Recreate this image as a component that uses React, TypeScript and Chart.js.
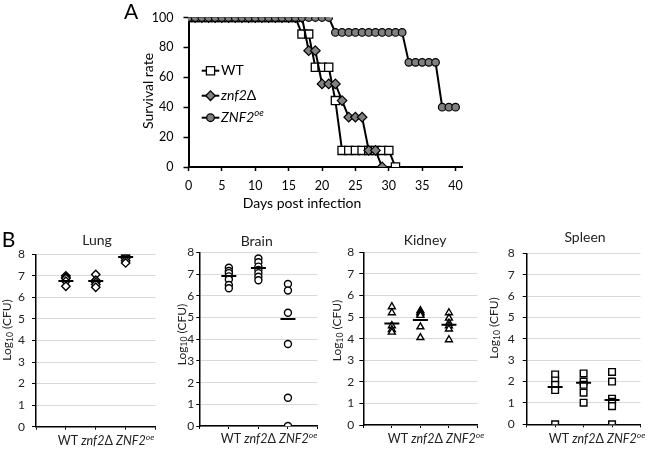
import React, { useEffect, useRef } from 'react';
import { Chart, registerables } from 'chart.js';

Chart.register(...registerables);

const FONT = 'Lato, "Liberation Sans", sans-serif';

// ---------------- Panel A : survival ----------------
const days = [0, 1, 2, 3, 4, 5, 6, 7, 8, 9, 10, 11, 12, 13, 14, 15, 16, 17, 18, 19, 20, 21, 22, 23, 24, 25, 26, 27, 28, 29, 30, 31, 32, 33, 34, 35, 36, 37, 38, 39, 40];
const survivalWT = [100, 100, 100, 100, 100, 100, 100, 100, 100, 100, 100, 100, 100, 100, 100, 100, 100, 88.9, 88.9, 66.7, 66.7, 66.7, 44.4, 11.1, 11.1, 11.1, 11.1, 11.1, 11.1, 11.1, 11.1, 0, null, null, null, null, null, null, null, null, null];
const survivalZnf2 = [100, 100, 100, 100, 100, 100, 100, 100, 100, 100, 100, 100, 100, 100, 100, 100, 100, 100, 77.8, 77.8, 55.6, 55.6, 55.6, 44.4, 33.3, 33.3, 33.3, 11.1, 11.1, 0, null, null, null, null, null, null, null, null, null, null, null];
const survivalOE = [100, 100, 100, 100, 100, 100, 100, 100, 100, 100, 100, 100, 100, 100, 100, 100, 100, 100, 100, 100, 100, 100, 90, 90, 90, 90, 90, 90, 90, 90, 90, 90, 90, 70, 70, 70, 70, 70, 40, 40, 40];

// ---------------- Panel B : fungal burden ----------------
const strains = ['WT', 'znf2Δ', 'ZNF2'];
const strainSup = ['', '', 'oe'];

const lungWT = [7.0, 6.93, 6.88, 6.75, 6.52];
const lungZnf2 = [7.06, 6.8, 6.7, 6.6, 6.47];
const lungOE = [7.97, 7.88, 7.8, 7.7, 7.6];
const lungMeans = [6.76, 6.76, 7.87];

const brainWT = [7.3, 7.15, 7.05, 6.9, 6.75, 6.5, 6.35];
const brainZnf2 = [7.72, 7.55, 7.35, 7.2, 7.05, 6.88, 6.72];
const brainOE = [6.55, 6.25, 5.22, 3.78, 1.3, 0];
const brainMeans = [6.92, 7.28, 4.93];

const kidneyWT = [5.48, 5.2, 4.6, 4.42, 4.3];
const kidneyZnf2 = [5.3, 5.22, 5.15, 5.08, 4.55, 4.05];
const kidneyOE = [5.2, 4.95, 4.72, 4.6, 4.45, 3.95];
const kidneyMeans = [4.7, 4.86, 4.64];

const spleenWT = [2.33, 2.05, 1.85, 1.6, 0];
const spleenZnf2 = [2.38, 2.0, 1.85, 1.48, 1.01];
const spleenOE = [2.45, 2.0, 1.2, 1.05, 0.85, 0];
const spleenMeans = [1.75, 1.94, 1.14];

// ---------------- helpers ----------------
type Box = { left: number; top: number; width: number; height: number };
type Area = { left: number; top: number; right: number; bottom: number };
type Seg = { t: string; size: number; italic?: boolean; dy?: number; color?: string };
type TextItem = { x: number; y: number; segs: Seg[]; align?: 'left' | 'center' | 'right'; rotate?: number };
type LegendItem = { y: number; x1: number; x2: number; mx: number; tx: number; style: 'rect' | 'rectRot' | 'circle'; r: number; fill: string; segs: Seg[] };

const fontOf = (s: Seg) => `${s.italic ? 'italic ' : ''}${s.size}px ${FONT}`;

function layoutFor(box: Box, area: Area) {
  return {
    top: area.top - box.top,
    right: box.left + box.width - area.right,
    yW: area.left - box.left,
    xH: box.top + box.height - area.bottom,
  };
}

function drawSegs(ctx: CanvasRenderingContext2D, segs: Seg[], align: string) {
  const widths = segs.map((s) => {
    ctx.font = fontOf(s);
    return ctx.measureText(s.t).width;
  });
  const total = widths.reduce((a, b) => a + b, 0);
  let x = align === 'center' ? -total / 2 : align === 'right' ? -total : 0;
  segs.forEach((s, i) => {
    ctx.font = fontOf(s);
    ctx.fillStyle = s.color || '#000';
    ctx.fillText(s.t, x, s.dy || 0);
    x += widths[i];
  });
}

function makeTextPlugin(box: Box, items: TextItem[], legend: LegendItem[] = []) {
  return {
    id: 'customTexts',
    afterDraw(chart: any) {
      const ctx = chart.ctx as CanvasRenderingContext2D;
      ctx.save();
      ctx.textBaseline = 'middle';
      for (const lg of legend) {
        const y = lg.y - box.top;
        ctx.strokeStyle = '#000';
        ctx.lineWidth = 2;
        ctx.beginPath();
        ctx.moveTo(lg.x1 - box.left, y);
        ctx.lineTo(lg.x2 - box.left, y);
        ctx.stroke();
        const mx = lg.mx - box.left;
        ctx.beginPath();
        if (lg.style === 'rect') {
          const h = lg.r * Math.SQRT1_2;
          ctx.rect(mx - h, y - h, 2 * h, 2 * h);
        } else if (lg.style === 'rectRot') {
          ctx.moveTo(mx, y - lg.r);
          ctx.lineTo(mx + lg.r, y);
          ctx.lineTo(mx, y + lg.r);
          ctx.lineTo(mx - lg.r, y);
          ctx.closePath();
        } else {
          ctx.arc(mx, y, lg.r, 0, Math.PI * 2);
        }
        ctx.fillStyle = lg.fill;
        ctx.fill();
        ctx.lineWidth = 1.3;
        ctx.stroke();
        ctx.save();
        ctx.translate(lg.tx - box.left, y);
        drawSegs(ctx, lg.segs, 'left');
        ctx.restore();
      }
      for (const it of items) {
        ctx.save();
        ctx.translate(it.x - box.left, it.y - box.top);
        if (it.rotate) ctx.rotate(it.rotate);
        drawSegs(ctx, it.segs, it.align || 'center');
        ctx.restore();
      }
      ctx.restore();
    },
  };
}

function ChartCanvas({ box, build }: { box: Box; build: () => any }) {
  const ref = useRef<HTMLCanvasElement>(null);
  useEffect(() => {
    const chart = new Chart(ref.current as HTMLCanvasElement, build());
    return () => chart.destroy();
  }, []);
  return (
    <canvas
      ref={ref}
      width={box.width}
      height={box.height}
      style={{ position: 'absolute', left: box.left, top: box.top, width: box.width, height: box.height }}
    />
  );
}

// ---------------- Panel A config ----------------
const BOX_A: Box = { left: 110, top: 0, width: 360, height: 215 };
const AREA_A: Area = { left: 188.5, top: 9, right: 463, bottom: 167 };

function toPoints(vals: (number | null)[]) {
  const out: { x: number; y: number }[] = [];
  days.forEach((d, i) => {
    const v = vals[i];
    if (v !== null && v !== undefined) out.push({ x: d, y: v });
  });
  return out;
}

function survivalConfig() {
  const L = layoutFor(BOX_A, AREA_A);
  const texts: TextItem[] = [
    { x: 131, y: 12, segs: [{ t: 'A', size: 21 }] },
    { x: 148, y: 91, rotate: -Math.PI / 2, segs: [{ t: 'Survival rate', size: 14 }] },
    { x: 302, y: 203, segs: [{ t: 'Days post infection', size: 14 }] },
  ];
  const legend: LegendItem[] = [
    { y: 70.7, x1: 201.7, x2: 219.3, mx: 210.5, tx: 221, style: 'rect', r: 5.8, fill: '#fff', segs: [{ t: 'WT', size: 14 }] },
    { y: 95.7, x1: 201.7, x2: 219.3, mx: 210.5, tx: 221, style: 'rectRot', r: 4.8, fill: '#808080', segs: [{ t: 'znf2', size: 14, italic: true }, { t: 'Δ', size: 14 }] },
    {
      y: 117.7, x1: 201.7, x2: 219.3, mx: 210.5, tx: 221, style: 'circle', r: 3.8, fill: '#808080',
      segs: [{ t: 'ZNF2', size: 14, italic: true }, { t: 'oe', size: 9.5, italic: true, dy: -4.5 }],
    },
  ];
  return {
    type: 'scatter',
    data: {
      datasets: [
        {
          label: 'WT', data: toPoints(survivalWT), showLine: true, borderColor: '#000', borderWidth: 2,
          pointStyle: 'rect', pointRadius: 5.8, pointBackgroundColor: '#fff', pointBorderColor: '#000', pointBorderWidth: 1.3, order: 3,
        },
        {
          label: 'znf2Δ', data: toPoints(survivalZnf2), showLine: true, borderColor: '#000', borderWidth: 2,
          pointStyle: 'rectRot', pointRadius: 4.8, pointBackgroundColor: '#808080', pointBorderColor: '#000', pointBorderWidth: 1.2, order: 2,
        },
        {
          label: 'ZNF2oe', data: toPoints(survivalOE), showLine: true, borderColor: '#000', borderWidth: 2,
          pointStyle: 'circle', pointRadius: 3.8, pointBackgroundColor: '#808080', pointBorderColor: '#000', pointBorderWidth: 1.2, order: 1,
        },
      ],
    },
    options: {
      animation: false,
      responsive: false,
      devicePixelRatio: 1,
      layout: { padding: { top: L.top, right: L.right, left: 0, bottom: 0 } },
      plugins: { legend: { display: false }, tooltip: { enabled: false } },
      scales: {
        x: {
          type: 'linear', min: 0, max: 41,
          border: { color: '#000', width: 2 },
          grid: { display: true, drawOnChartArea: false, drawTicks: true, tickLength: 4, tickColor: '#000', tickWidth: 1.5 },
          ticks: { stepSize: 5, includeBounds: false, padding: 7, color: '#000', maxRotation: 0, font: { size: 12.5, family: FONT } },
          afterFit: (s: any) => { s.height = L.xH; },
        },
        y: {
          type: 'linear', min: 0, max: 100,
          border: { color: '#000', width: 2 },
          grid: { display: true, drawOnChartArea: false, drawTicks: true, tickLength: 5, tickColor: '#000', tickWidth: 1.5 },
          ticks: { stepSize: 20, padding: 10, color: '#000', font: { size: 12.5, family: FONT } },
          afterFit: (s: any) => { s.width = L.yW; },
        },
      },
    },
    plugins: [makeTextPlugin(BOX_A, texts, legend)],
  };
}

// ---------------- Panel B config ----------------
type Organ = {
  title: string;
  box: Box;
  area: Area;
  titlePos: [number, number];
  yTitlePos: [number, number];
  catPos: [number, number];
  groups: number[][];
  means: number[];
  style: string;
  radius: number;
  yPad: number;
  yTick: number;
  extra?: TextItem[];
};

const organs: Organ[] = [
  {
    title: 'Lung', box: { left: 0, top: 225, width: 165, height: 224 }, area: { left: 36, top: 254.3, right: 162, bottom: 426.7 },
    titlePos: [97, 240], yTitlePos: [7.5, 330], catPos: [106, 441], groups: [lungWT, lungZnf2, lungOE], means: lungMeans, style: 'rectRot', radius: 4.2,
    yPad: 7, yTick: 4, extra: [{ x: 8.5, y: 240.5, segs: [{ t: 'B', size: 21 }] }],
  },
  {
    title: 'Brain', box: { left: 165, top: 225, width: 162, height: 224 }, area: { left: 199.3, top: 252.5, right: 324, bottom: 426 },
    titlePos: [256.7, 241], yTitlePos: [181.7, 334.5], catPos: [269, 439], groups: [brainWT, brainZnf2, brainOE], means: brainMeans, style: 'circle', radius: 3.5,
    yPad: 2, yTick: 3,
  },
  {
    title: 'Kidney', box: { left: 327, top: 225, width: 160, height: 224 }, area: { left: 363.3, top: 252.3, right: 486, bottom: 425 },
    titlePos: [425, 240], yTitlePos: [337, 330.5], catPos: [436, 439], groups: [kidneyWT, kidneyZnf2, kidneyOE], means: kidneyMeans, style: 'triangle', radius: 4,
    yPad: 5, yTick: 4,
  },
  {
    title: 'Spleen', box: { left: 487, top: 225, width: 163, height: 224 }, area: { left: 526.7, top: 253.3, right: 648, bottom: 424.3 },
    titlePos: [585, 237], yTitlePos: [494, 328], catPos: [597, 439], groups: [spleenWT, spleenZnf2, spleenOE], means: spleenMeans, style: 'rect', radius: 4.7,
    yPad: 8, yTick: 4,
  },
];

function categorySegs(): Seg[] {
  const segs: Seg[] = [];
  strains.forEach((s, i) => {
    if (i > 0) segs.push({ t: ' ', size: 12.5, color: '#222' });
    if (s.endsWith('Δ')) {
      segs.push({ t: s.slice(0, -1), size: 12.5, italic: true, color: '#222' });
      segs.push({ t: 'Δ', size: 12.5, color: '#222' });
    } else {
      segs.push({ t: s, size: 12.5, italic: i > 0, color: '#222' });
    }
    if (strainSup[i]) segs.push({ t: strainSup[i], size: 8.5, italic: true, dy: -4, color: '#222' });
  });
  return segs;
}

function organConfig(o: Organ) {
  const L = layoutFor(o.box, o.area);
  const points: { x: number; y: number }[] = [];
  o.groups.forEach((g, gi) => g.forEach((v) => points.push({ x: gi + 1, y: v })));
  const meanPts = o.means.map((m, i) => ({ x: i + 1, y: m }));
  const texts: TextItem[] = [
    { x: o.titlePos[0], y: o.titlePos[1], segs: [{ t: o.title, size: 14, color: '#222' }] },
    {
      x: o.yTitlePos[0], y: o.yTitlePos[1], rotate: -Math.PI / 2,
      segs: [
        { t: 'Log', size: 12, color: '#222' },
        { t: '10', size: 8.5, dy: 3, color: '#222' },
        { t: ' (CFU)', size: 12, color: '#222' },
      ],
    },
    { x: o.catPos[0], y: o.catPos[1], segs: categorySegs() },
    ...(o.extra || []),
  ];
  return {
    type: 'scatter',
    data: {
      datasets: [
        {
          label: 'means', data: meanPts, pointStyle: 'line', pointRadius: 7.5, pointBorderWidth: 2,
          pointBorderColor: '#000', pointBackgroundColor: '#000', order: 0,
        },
        {
          label: 'values', data: points, pointStyle: o.style, pointRadius: o.radius, pointBorderWidth: 1.4,
          pointBorderColor: '#000', pointBackgroundColor: '#fff', order: 1,
        },
      ],
    },
    options: {
      animation: false,
      responsive: false,
      devicePixelRatio: 1,
      layout: { padding: { top: L.top, right: L.right, left: 0, bottom: 0 } },
      plugins: { legend: { display: false }, tooltip: { enabled: false } },
      scales: {
        x: {
          type: 'linear', min: 0, max: 4,
          border: { color: '#000', width: 1.5 },
          grid: { display: true, drawOnChartArea: false, drawTicks: true, tickLength: 3, tickColor: '#000' },
          afterBuildTicks: (s: any) => { s.ticks = [0, 1, 2, 3, 4].map((v) => ({ value: v })); },
          ticks: { padding: 5, maxRotation: 0, autoSkip: false, callback: () => '', font: { size: 12.5, family: FONT } },
          afterFit: (s: any) => { s.height = L.xH; },
        },
        y: {
          type: 'linear', min: 0, max: 8,
          border: { color: '#000', width: 1.5 },
          grid: { display: true, color: '#d9d9d9', lineWidth: 1, drawTicks: true, tickLength: o.yTick, tickColor: '#000' },
          ticks: { stepSize: 1, padding: o.yPad, color: '#222', font: { size: 12, family: FONT } },
          afterFit: (s: any) => { s.width = L.yW; },
        },
      },
    },
    plugins: [makeTextPlugin(o.box, texts)],
  };
}

export default function App() {
  return (
    <div style={{ position: 'fixed', left: 0, top: 0, width: 650, height: 449, background: '#fff', overflow: 'hidden' }}>
      <ChartCanvas box={BOX_A} build={survivalConfig} />
      {organs.map((o) => (
        <ChartCanvas key={o.title} box={o.box} build={() => organConfig(o)} />
      ))}
    </div>
  );
}
